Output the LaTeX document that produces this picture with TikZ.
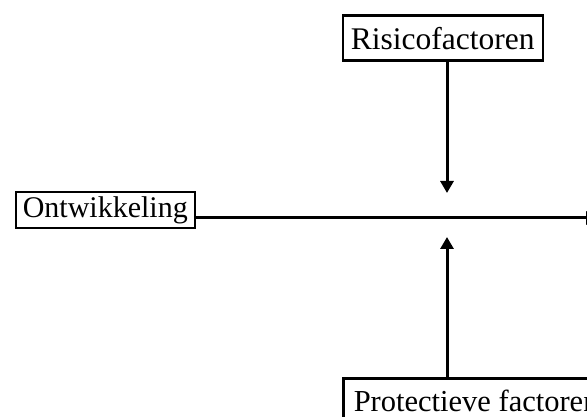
\documentclass[tikz,border=0pt]{standalone}
\usepackage{fontspec}
\setmainfont{Liberation Serif}
\usetikzlibrary{arrows.meta}
\begin{document}
\begin{tikzpicture}[x=1pt,y=-1pt,
  box/.style={draw,line width=2.5pt,inner xsep=0pt,inner ysep=0pt},
  big/.style={font=\fontsize{31.5}{36}\selectfont},
  mid/.style={font=\fontsize{30}{34}\selectfont},
  conn/.style={line width=3pt,-{Triangle[length=12pt,width=13pt]}}]
\useasboundingbox (0,0) rectangle (587,417);
\clip (0,0) rectangle (587,417);
\node[box,big,minimum width=200pt,minimum height=45pt,anchor=north west] (risk) at (341.5,14.5) {Risicofactoren};
\node[box,mid,minimum width=179pt,minimum height=36pt,anchor=west] (dev) at (14.5,210) {Ontwikkeling};
\node[box,font=\fontsize{30.5}{35}\selectfont,inner xsep=10.5pt,minimum height=45pt,anchor=north west] (prot) at (342,377) {Protectieve factoren};
\coordinate (tipdown) at (447,193);
\coordinate (tipup) at (447,237);
\coordinate (devend) at (598,218);
\draw[conn] (risk.south -| tipdown) -- (tipdown);
\draw[conn] (prot.north -| tipup) -- (tipup);
\draw[conn] (dev.east |- devend) -- (devend);
\end{tikzpicture}
\end{document}
